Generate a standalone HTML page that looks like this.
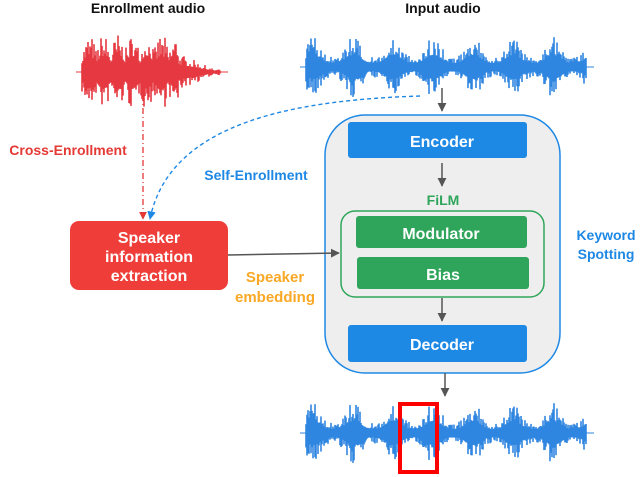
<!DOCTYPE html>
<html><head><meta charset="utf-8"><style>
body{margin:0;background:#fff;width:640px;height:477px;overflow:hidden}
svg{display:block}
text{font-family:"Liberation Sans",sans-serif;font-weight:bold}
</style></head><body>
<svg id="s" width="640" height="477" viewBox="0 0 640 477" xmlns="http://www.w3.org/2000/svg">
<defs>
<marker id="ag" viewBox="0 0 10 10" refX="9" refY="5" markerWidth="6" markerHeight="6" orient="auto"><path d="M0,0L10,5L0,10z" fill="#555"/></marker>
<marker id="ar" viewBox="0 0 10 10" refX="9" refY="5" markerWidth="6" markerHeight="6" orient="auto"><path d="M0,0L10,5L0,10z" fill="#e53935"/></marker>
<marker id="ab" viewBox="0 0 10 10" refX="9" refY="5" markerWidth="6" markerHeight="6" orient="auto"><path d="M0,0L10,5L0,10z" fill="#1e88e5"/></marker>
</defs>
<text x="148" y="13" font-size="14" text-anchor="middle" fill="#111">Enrollment audio</text>
<text x="443" y="13" font-size="14" text-anchor="middle" fill="#111">Input audio</text>
<g id="w1"></g><g id="w2"></g><g id="w3"></g>
<rect x="325" y="115" width="235" height="258" rx="40" fill="#eeeeee" stroke="#1e88e5" stroke-width="1.5"/>
<rect x="348" y="122" width="179" height="36" rx="3" fill="#1e88e5"/>
<text x="442" y="147" font-size="16" fill="#fff" text-anchor="middle">Encoder</text>
<line x1="442" y1="163" x2="442" y2="186" stroke="#555" stroke-width="1.5" marker-end="url(#ag)"/>
<text x="443" y="205" font-size="14" fill="#2ea55a" text-anchor="middle">FiLM</text>
<rect x="341" y="211" width="203" height="86" rx="14" fill="none" stroke="#2ea55a" stroke-width="1.5"/>
<rect x="356" y="216" width="171" height="32" rx="3" fill="#2ea55a"/>
<text x="441" y="239" font-size="16" fill="#fff" text-anchor="middle">Modulator</text>
<rect x="357" y="257" width="172" height="32" rx="3" fill="#2ea55a"/>
<text x="443" y="280" font-size="16" fill="#fff" text-anchor="middle">Bias</text>
<line x1="442" y1="298" x2="442" y2="321" stroke="#555" stroke-width="1.5" marker-end="url(#ag)"/>
<rect x="348" y="325" width="179" height="37" rx="3" fill="#1e88e5"/>
<text x="442" y="350" font-size="16" fill="#fff" text-anchor="middle">Decoder</text>
<text x="606" y="240" font-size="14" fill="#1e88e5" text-anchor="middle">Keyword</text>
<text x="606" y="259" font-size="14" fill="#1e88e5" text-anchor="middle">Spotting</text>
<line x1="442" y1="88" x2="442" y2="111" stroke="#555" stroke-width="1.5" marker-end="url(#ag)"/>
<line x1="445" y1="373" x2="445" y2="396" stroke="#555" stroke-width="1.5" marker-end="url(#ag)"/>
<line x1="143" y1="95" x2="143" y2="219" stroke="#e53935" stroke-width="1.3" stroke-dasharray="6,3,1,3" marker-end="url(#ar)"/>
<path d="M420,96 C300,100 170,120 150,219" fill="none" stroke="#1e88e5" stroke-width="1.4" stroke-dasharray="4,3" marker-end="url(#ab)"/>
<text x="68" y="155" font-size="14" fill="#e53935" text-anchor="middle">Cross-Enrollment</text>
<text x="256" y="180" font-size="14" fill="#1e88e5" text-anchor="middle">Self-Enrollment</text>
<rect x="70" y="221" width="158" height="69" rx="9" fill="#ef3e3a"/>
<text x="149" y="243" font-size="16" fill="#fff" text-anchor="middle">Speaker</text>
<text x="149" y="262" font-size="16" fill="#fff" text-anchor="middle">information</text>
<text x="149" y="281" font-size="16" fill="#fff" text-anchor="middle">extraction</text>
<line x1="228" y1="255" x2="339" y2="253" stroke="#555" stroke-width="1.5" marker-end="url(#ag)"/>
<text x="275" y="282" font-size="15" fill="#f9a825" text-anchor="middle">Speaker</text>
<text x="275" y="302" font-size="15" fill="#f9a825" text-anchor="middle">embedding</text>
<rect x="400" y="404" width="37" height="68" fill="none" stroke="#ff0000" stroke-width="4"/>
</svg>
<script>
function rng(seed){return function(){seed=(seed*16807)%2147483647;return seed/2147483647;}}
function wave(id,x0,x1,cy,amp,col,seed,env){
 var r=rng(seed),s="",g=document.getElementById(id);
 s+='<line x1="'+(x0-6)+'" y1="'+cy+'" x2="'+(x1+8)+'" y2="'+cy+'" stroke="'+col+'" stroke-width="1"/>';
 for(var x=x0;x<=x1;x+=1){var t=(x-x0)/(x1-x0);var e=env(t);var a=amp*e*(0.4+0.6*Math.pow(r(),2.5));var b=amp*e*(0.4+0.6*Math.pow(r(),2.5));
 s+='<line x1="'+x+'" y1="'+(cy-a).toFixed(1)+'" x2="'+x+'" y2="'+(cy+b).toFixed(1)+'" stroke="'+col+'" stroke-width="1.6"/>';}
 g.innerHTML=s;}
function e1(t){return t<0.7?(0.55+0.45*Math.abs(Math.sin(t*30))):Math.max(0.08,(1-t)*1.6);}
function e2(t){return 0.35+0.65*Math.pow(Math.abs(Math.sin(t*22+1)),3);}
wave("w1",82,220,72,40,"#e53940",7,e1);
wave("w2",306,586,67,30,"#2f86e0",13,e2);
wave("w3",306,586,433,30,"#2f86e0",13,e2);
</script>
</body></html>
